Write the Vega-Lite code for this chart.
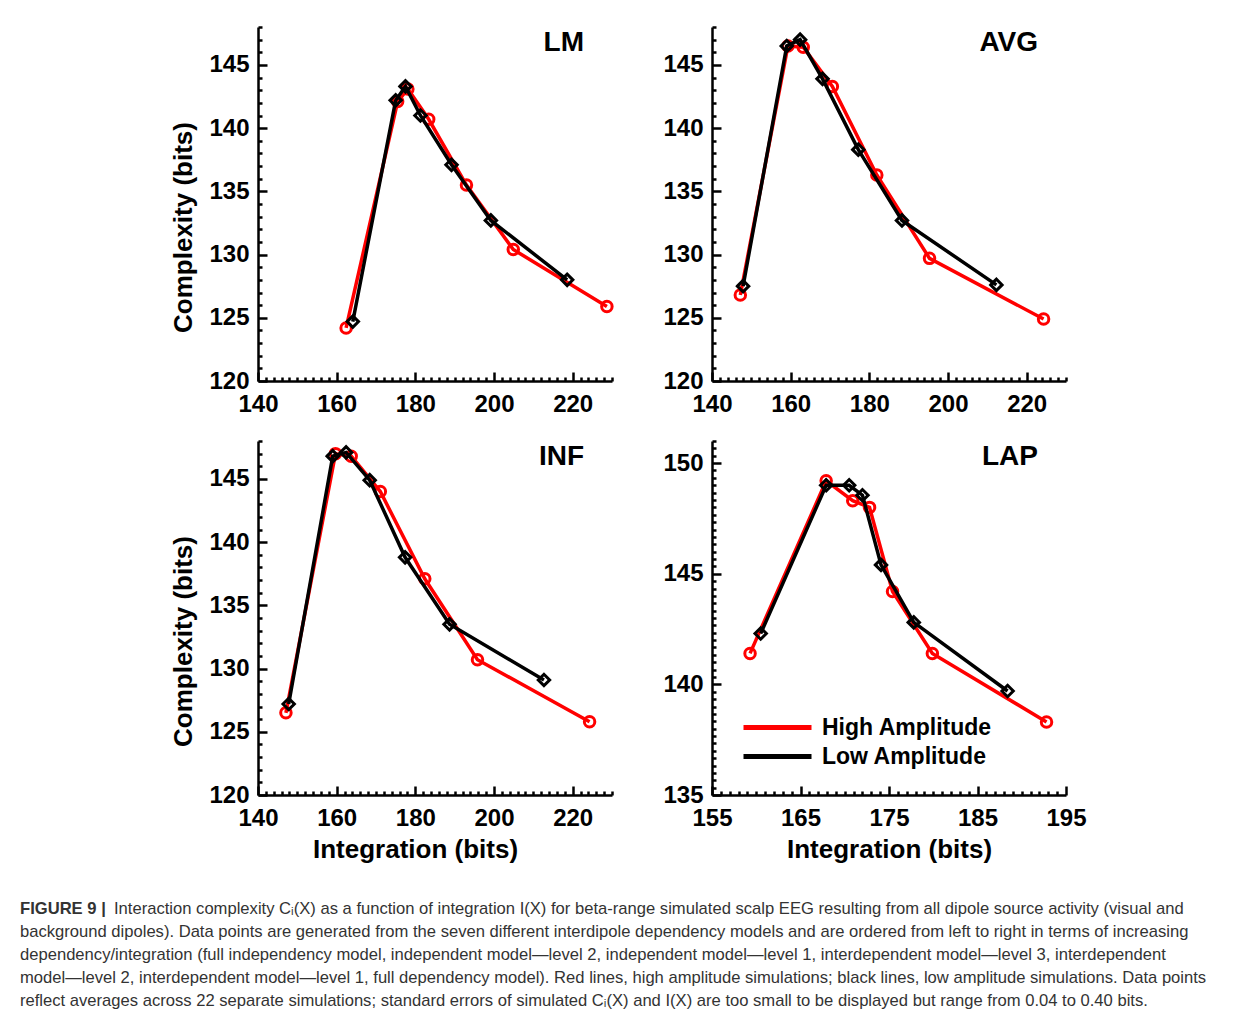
{
  "$schema": "https://vega.github.io/schema/vega-lite/v6.json",
  "padding": {"left": 20, "top": 15, "right": 0, "bottom": 0},
  "background": "white",
  "config": {
    "view": {"stroke": null},
    "axis": {
      "domainColor": "#000", "domainWidth": 2.5, "tickColor": "#000", "tickWidth": 2.5,
      "labelFont": "Liberation Sans", "labelFontSize": 24, "labelFontWeight": "bold", "labelColor": "#000",
      "titleFont": "Liberation Sans", "titleFontSize": 26, "titleFontWeight": "bold", "titleColor": "#000",
      "grid": false, "labelOverlap": false, "labelFlush": false, "labelBound": false
    },
    "axisX": {"labelPadding": 20, "titlePadding": 1},
    "axisY": {"labelPadding": 18, "titlePadding": 12},
    "title": {"font": "Liberation Sans", "fontSize": 28, "fontWeight": "bold", "color": "#000", "anchor": "end", "frame": "group", "offset": -42, "dx": -28}
  },
  "data": {"values": [
    {"panel": "LM", "amp": "High Amplitude", "x": 162.4, "y": 124.2},
    {"panel": "LM", "amp": "High Amplitude", "x": 175.5, "y": 142.1},
    {"panel": "LM", "amp": "High Amplitude", "x": 178.1, "y": 143.1},
    {"panel": "LM", "amp": "High Amplitude", "x": 183.4, "y": 140.7},
    {"panel": "LM", "amp": "High Amplitude", "x": 193.0, "y": 135.5},
    {"panel": "LM", "amp": "High Amplitude", "x": 204.9, "y": 130.4},
    {"panel": "LM", "amp": "High Amplitude", "x": 228.7, "y": 125.9},
    {"panel": "LM", "amp": "Low Amplitude", "x": 164.1, "y": 124.7},
    {"panel": "LM", "amp": "Low Amplitude", "x": 175.0, "y": 142.2},
    {"panel": "LM", "amp": "Low Amplitude", "x": 177.5, "y": 143.3},
    {"panel": "LM", "amp": "Low Amplitude", "x": 181.3, "y": 141.0},
    {"panel": "LM", "amp": "Low Amplitude", "x": 189.2, "y": 137.1},
    {"panel": "LM", "amp": "Low Amplitude", "x": 199.2, "y": 132.7},
    {"panel": "LM", "amp": "Low Amplitude", "x": 218.6, "y": 128.0},
    {"panel": "AVG", "amp": "High Amplitude", "x": 147.2, "y": 126.8},
    {"panel": "AVG", "amp": "High Amplitude", "x": 159.3, "y": 146.5},
    {"panel": "AVG", "amp": "High Amplitude", "x": 163.2, "y": 146.4},
    {"panel": "AVG", "amp": "High Amplitude", "x": 170.6, "y": 143.3},
    {"panel": "AVG", "amp": "High Amplitude", "x": 181.9, "y": 136.3},
    {"panel": "AVG", "amp": "High Amplitude", "x": 195.3, "y": 129.7},
    {"panel": "AVG", "amp": "High Amplitude", "x": 224.3, "y": 124.9},
    {"panel": "AVG", "amp": "Low Amplitude", "x": 147.9, "y": 127.5},
    {"panel": "AVG", "amp": "Low Amplitude", "x": 159.0, "y": 146.5},
    {"panel": "AVG", "amp": "Low Amplitude", "x": 162.4, "y": 147.0},
    {"panel": "AVG", "amp": "Low Amplitude", "x": 168.1, "y": 143.9},
    {"panel": "AVG", "amp": "Low Amplitude", "x": 177.2, "y": 138.3},
    {"panel": "AVG", "amp": "Low Amplitude", "x": 188.3, "y": 132.7},
    {"panel": "AVG", "amp": "Low Amplitude", "x": 212.3, "y": 127.6},
    {"panel": "INF", "amp": "High Amplitude", "x": 147.1, "y": 126.5},
    {"panel": "INF", "amp": "High Amplitude", "x": 159.7, "y": 147.0},
    {"panel": "INF", "amp": "High Amplitude", "x": 163.7, "y": 146.8},
    {"panel": "INF", "amp": "High Amplitude", "x": 171.1, "y": 144.0},
    {"panel": "INF", "amp": "High Amplitude", "x": 182.4, "y": 137.1},
    {"panel": "INF", "amp": "High Amplitude", "x": 195.8, "y": 130.7},
    {"panel": "INF", "amp": "High Amplitude", "x": 224.3, "y": 125.8},
    {"panel": "INF", "amp": "Low Amplitude", "x": 147.8, "y": 127.2},
    {"panel": "INF", "amp": "Low Amplitude", "x": 159.0, "y": 146.8},
    {"panel": "INF", "amp": "Low Amplitude", "x": 162.4, "y": 147.1},
    {"panel": "INF", "amp": "Low Amplitude", "x": 168.4, "y": 144.9},
    {"panel": "INF", "amp": "Low Amplitude", "x": 177.4, "y": 138.8},
    {"panel": "INF", "amp": "Low Amplitude", "x": 188.7, "y": 133.5},
    {"panel": "INF", "amp": "Low Amplitude", "x": 212.7, "y": 129.1},
    {"panel": "LAP", "amp": "High Amplitude", "x": 159.3, "y": 141.4},
    {"panel": "LAP", "amp": "High Amplitude", "x": 167.9, "y": 149.2},
    {"panel": "LAP", "amp": "High Amplitude", "x": 170.9, "y": 148.3},
    {"panel": "LAP", "amp": "High Amplitude", "x": 172.8, "y": 148.0},
    {"panel": "LAP", "amp": "High Amplitude", "x": 175.4, "y": 144.2},
    {"panel": "LAP", "amp": "High Amplitude", "x": 179.9, "y": 141.4},
    {"panel": "LAP", "amp": "High Amplitude", "x": 192.8, "y": 138.3},
    {"panel": "LAP", "amp": "Low Amplitude", "x": 160.5, "y": 142.3},
    {"panel": "LAP", "amp": "Low Amplitude", "x": 167.9, "y": 149.0},
    {"panel": "LAP", "amp": "Low Amplitude", "x": 170.5, "y": 149.0},
    {"panel": "LAP", "amp": "Low Amplitude", "x": 172.0, "y": 148.55},
    {"panel": "LAP", "amp": "Low Amplitude", "x": 174.1, "y": 145.4},
    {"panel": "LAP", "amp": "Low Amplitude", "x": 177.8, "y": 142.8},
    {"panel": "LAP", "amp": "Low Amplitude", "x": 188.4, "y": 139.7}
  ]},
  "columns": 2,
  "align": "all",
  "bounds": "flush",
  "spacing": {"row": 60, "column": 100},
  "resolve": {"scale": {"color": "independent"}, "legend": {"color": "independent"}},
  "concat": [
    {
      "width": 354, "height": 354,
      "title": {"text": "LM"},
      "transform": [{"filter": "datum.panel === 'LM'"}],
      "encoding": {
        "x": {"field": "x", "type": "quantitative", "scale": {"domain": [140, 230], "nice": false, "zero": false},
          "axis": {"title": null, "values": [140,142,144,146,148,150,152,154,156,158,160,162,164,166,168,170,172,174,176,178,180,182,184,186,188,190,192,194,196,198,200,202,204,206,208,210,212,214,216,218,220,222,224,226,228,230],
            "labelExpr": "datum.value % 20 === 0 && datum.value < 230 ? format(datum.value, '.0f') : ''",
            "tickSize": {"condition": {"test": "datum.value % 20 === 0", "value": -9}, "value": -4}}},
        "y": {"field": "y", "type": "quantitative", "scale": {"domain": [120, 148], "nice": false, "zero": false},
          "axis": {"title": "Complexity (bits)", "titleY": 200, "values": [120,121,122,123,124,125,126,127,128,129,130,131,132,133,134,135,136,137,138,139,140,141,142,143,144,145,146,147,148],
            "labelExpr": "datum.value % 5 === 0 ? format(datum.value, '.0f') : ''",
            "tickSize": {"condition": {"test": "datum.value % 5 === 0", "value": -9}, "value": -4}}}
      },
      "layer": [
        {"transform": [{"filter": "datum.amp === 'High Amplitude'"}], "mark": {"type": "line", "strokeWidth": 3.5},
          "encoding": {"color": {"field": "amp", "type": "nominal", "scale": {"domain": ["High Amplitude", "Low Amplitude"], "range": ["#ff0000", "#000000"]}, "legend": null}}},
        {"transform": [{"filter": "datum.amp === 'High Amplitude'"}], "mark": {"type": "point", "shape": "circle", "filled": false, "color": "#ff0000", "strokeWidth": 3, "size": 110, "opacity": 1}},
        {"transform": [{"filter": "datum.amp === 'Low Amplitude'"}], "mark": {"type": "line", "strokeWidth": 3.5},
          "encoding": {"color": {"field": "amp", "type": "nominal", "scale": {"domain": ["High Amplitude", "Low Amplitude"], "range": ["#ff0000", "#000000"]}, "legend": null}}},
        {"transform": [{"filter": "datum.amp === 'Low Amplitude'"}], "mark": {"type": "point", "shape": "diamond", "filled": false, "color": "#000000", "strokeWidth": 3, "size": 130, "opacity": 1}}
      ]
    },
    {
      "width": 354, "height": 354,
      "title": {"text": "AVG"},
      "transform": [{"filter": "datum.panel === 'AVG'"}],
      "encoding": {
        "x": {"field": "x", "type": "quantitative", "scale": {"domain": [140, 230], "nice": false, "zero": false},
          "axis": {"title": null, "values": [140,142,144,146,148,150,152,154,156,158,160,162,164,166,168,170,172,174,176,178,180,182,184,186,188,190,192,194,196,198,200,202,204,206,208,210,212,214,216,218,220,222,224,226,228,230],
            "labelExpr": "datum.value % 20 === 0 && datum.value < 230 ? format(datum.value, '.0f') : ''",
            "tickSize": {"condition": {"test": "datum.value % 20 === 0", "value": -9}, "value": -4}}},
        "y": {"field": "y", "type": "quantitative", "scale": {"domain": [120, 148], "nice": false, "zero": false},
          "axis": {"title": null, "values": [120,121,122,123,124,125,126,127,128,129,130,131,132,133,134,135,136,137,138,139,140,141,142,143,144,145,146,147,148],
            "labelExpr": "datum.value % 5 === 0 ? format(datum.value, '.0f') : ''",
            "tickSize": {"condition": {"test": "datum.value % 5 === 0", "value": -9}, "value": -4}}}
      },
      "layer": [
        {"transform": [{"filter": "datum.amp === 'High Amplitude'"}], "mark": {"type": "line", "strokeWidth": 3.5},
          "encoding": {"color": {"field": "amp", "type": "nominal", "scale": {"domain": ["High Amplitude", "Low Amplitude"], "range": ["#ff0000", "#000000"]}, "legend": null}}},
        {"transform": [{"filter": "datum.amp === 'High Amplitude'"}], "mark": {"type": "point", "shape": "circle", "filled": false, "color": "#ff0000", "strokeWidth": 3, "size": 110, "opacity": 1}},
        {"transform": [{"filter": "datum.amp === 'Low Amplitude'"}], "mark": {"type": "line", "strokeWidth": 3.5},
          "encoding": {"color": {"field": "amp", "type": "nominal", "scale": {"domain": ["High Amplitude", "Low Amplitude"], "range": ["#ff0000", "#000000"]}, "legend": null}}},
        {"transform": [{"filter": "datum.amp === 'Low Amplitude'"}], "mark": {"type": "point", "shape": "diamond", "filled": false, "color": "#000000", "strokeWidth": 3, "size": 130, "opacity": 1}}
      ]
    },
    {
      "width": 354, "height": 354,
      "title": {"text": "INF"},
      "transform": [{"filter": "datum.panel === 'INF'"}],
      "encoding": {
        "x": {"field": "x", "type": "quantitative", "scale": {"domain": [140, 230], "nice": false, "zero": false},
          "axis": {"title": "Integration (bits)", "titleX": 157, "values": [140,142,144,146,148,150,152,154,156,158,160,162,164,166,168,170,172,174,176,178,180,182,184,186,188,190,192,194,196,198,200,202,204,206,208,210,212,214,216,218,220,222,224,226,228,230],
            "labelExpr": "datum.value % 20 === 0 && datum.value < 230 ? format(datum.value, '.0f') : ''",
            "tickSize": {"condition": {"test": "datum.value % 20 === 0", "value": -9}, "value": -4}}},
        "y": {"field": "y", "type": "quantitative", "scale": {"domain": [120, 148], "nice": false, "zero": false},
          "axis": {"title": "Complexity (bits)", "titleY": 200, "values": [120,121,122,123,124,125,126,127,128,129,130,131,132,133,134,135,136,137,138,139,140,141,142,143,144,145,146,147,148],
            "labelExpr": "datum.value % 5 === 0 ? format(datum.value, '.0f') : ''",
            "tickSize": {"condition": {"test": "datum.value % 5 === 0", "value": -9}, "value": -4}}}
      },
      "layer": [
        {"transform": [{"filter": "datum.amp === 'High Amplitude'"}], "mark": {"type": "line", "strokeWidth": 3.5},
          "encoding": {"color": {"field": "amp", "type": "nominal", "scale": {"domain": ["High Amplitude", "Low Amplitude"], "range": ["#ff0000", "#000000"]}, "legend": null}}},
        {"transform": [{"filter": "datum.amp === 'High Amplitude'"}], "mark": {"type": "point", "shape": "circle", "filled": false, "color": "#ff0000", "strokeWidth": 3, "size": 110, "opacity": 1}},
        {"transform": [{"filter": "datum.amp === 'Low Amplitude'"}], "mark": {"type": "line", "strokeWidth": 3.5},
          "encoding": {"color": {"field": "amp", "type": "nominal", "scale": {"domain": ["High Amplitude", "Low Amplitude"], "range": ["#ff0000", "#000000"]}, "legend": null}}},
        {"transform": [{"filter": "datum.amp === 'Low Amplitude'"}], "mark": {"type": "point", "shape": "diamond", "filled": false, "color": "#000000", "strokeWidth": 3, "size": 130, "opacity": 1}}
      ]
    },
    {
      "width": 354, "height": 354,
      "title": {"text": "LAP"},
      "transform": [{"filter": "datum.panel === 'LAP'"}],
      "encoding": {
        "x": {"field": "x", "type": "quantitative", "scale": {"domain": [155, 195], "nice": false, "zero": false},
          "axis": {"title": "Integration (bits)", "values": [155,156,157,158,159,160,161,162,163,164,165,166,167,168,169,170,171,172,173,174,175,176,177,178,179,180,181,182,183,184,185,186,187,188,189,190,191,192,193,194,195],
            "labelExpr": "(datum.value - 155) % 10 === 0 ? format(datum.value, '.0f') : ''",
            "tickSize": {"condition": {"test": "(datum.value - 155) % 10 === 0", "value": -9}, "value": -4}}},
        "y": {"field": "y", "type": "quantitative", "scale": {"domain": [135, 151], "nice": false, "zero": false},
          "axis": {"title": null, "values": [135,135.333,135.667,136,136.333,136.667,137,137.333,137.667,138,138.333,138.667,139,139.333,139.667,140,140.333,140.667,141,141.333,141.667,142,142.333,142.667,143,143.333,143.667,144,144.333,144.667,145,145.333,145.667,146,146.333,146.667,147,147.333,147.667,148,148.333,148.667,149,149.333,149.667,150,150.333,150.667,151],
            "labelExpr": "abs(datum.value - 5 * round(datum.value / 5)) < 0.01 ? format(datum.value, '.0f') : ''",
            "tickSize": {"condition": {"test": "abs(datum.value - 5 * round(datum.value / 5)) < 0.01", "value": -9}, "value": -4}}}
      },
      "layer": [
        {"transform": [{"filter": "datum.amp === 'High Amplitude'"}], "mark": {"type": "line", "strokeWidth": 3.5},
          "encoding": {"color": {"field": "amp", "type": "nominal", "scale": {"domain": ["High Amplitude", "Low Amplitude"], "range": ["#ff0000", "#000000"]},
            "legend": {"title": null, "orient": "none", "legendX": 54, "legendY": 275, "symbolType": "M-4,0L4,0", "symbolSize": 289, "symbolStrokeWidth": 5, "labelOffset": 33, "labelLimit": 400, "labelFont": "Liberation Sans", "labelFontSize": 23, "labelFontWeight": "bold", "labelColor": "#000", "rowPadding": 5}}}},
        {"transform": [{"filter": "datum.amp === 'High Amplitude'"}], "mark": {"type": "point", "shape": "circle", "filled": false, "color": "#ff0000", "strokeWidth": 3, "size": 110, "opacity": 1}},
        {"transform": [{"filter": "datum.amp === 'Low Amplitude'"}], "mark": {"type": "line", "strokeWidth": 3.5},
          "encoding": {"color": {"field": "amp", "type": "nominal", "scale": {"domain": ["High Amplitude", "Low Amplitude"], "range": ["#ff0000", "#000000"]}}}},
        {"transform": [{"filter": "datum.amp === 'Low Amplitude'"}], "mark": {"type": "point", "shape": "diamond", "filled": false, "color": "#000000", "strokeWidth": 3, "size": 130, "opacity": 1}}
      ]
    },
    {
      "width": 354, "height": 115,
      "data": {"values": [
        {"line": 1, "kind": "bold", "text": "FIGURE 9 |"},
        {"line": 1, "kind": "first", "text": "Interaction complexity Cᵢ(X) as a function of integration I(X) for beta-range simulated scalp EEG resulting from all dipole source activity (visual and"},
        {"line": 2, "kind": "body", "text": "background dipoles). Data points are generated from the seven different interdipole dependency models and are ordered from left to right in terms of increasing"},
        {"line": 3, "kind": "body", "text": "dependency/integration (full independency model, independent model—level 2, independent model—level 1, interdependent model—level 3, interdependent"},
        {"line": 4, "kind": "body", "text": "model—level 2, interdependent model—level 1, full dependency model). Red lines, high amplitude simulations; black lines, low amplitude simulations. Data points"},
        {"line": 5, "kind": "body", "text": "reflect averages across 22 separate simulations; standard errors of simulated Cᵢ(X) and I(X) are too small to be displayed but range from 0.04 to 0.40 bits."}
      ]},
      "encoding": {
        "y": {"field": "line", "type": "ordinal", "axis": null, "scale": {"domain": [1, 2, 3, 4, 5], "type": "point", "padding": 0.5}},
        "x": {"datum": 0, "type": "quantitative", "scale": {"domain": [0, 1]}, "axis": null},
        "text": {"field": "text"}
      },
      "layer": [
        {"transform": [{"filter": "datum.kind === 'bold'"}], "mark": {"type": "text", "align": "left", "baseline": "middle", "font": "Liberation Sans", "fontSize": 16.6, "fontWeight": "bold", "color": "#333333", "dx": -238, "dy": 42}},
        {"transform": [{"filter": "datum.kind === 'first'"}], "mark": {"type": "text", "align": "left", "baseline": "middle", "font": "Liberation Sans", "fontSize": 16.6, "color": "#333333", "dx": -144, "dy": 42}},
        {"transform": [{"filter": "datum.kind === 'body'"}], "mark": {"type": "text", "align": "left", "baseline": "middle", "font": "Liberation Sans", "fontSize": 16.6, "color": "#333333", "dx": -238, "dy": 42}}
      ]
    }
  ]
}
